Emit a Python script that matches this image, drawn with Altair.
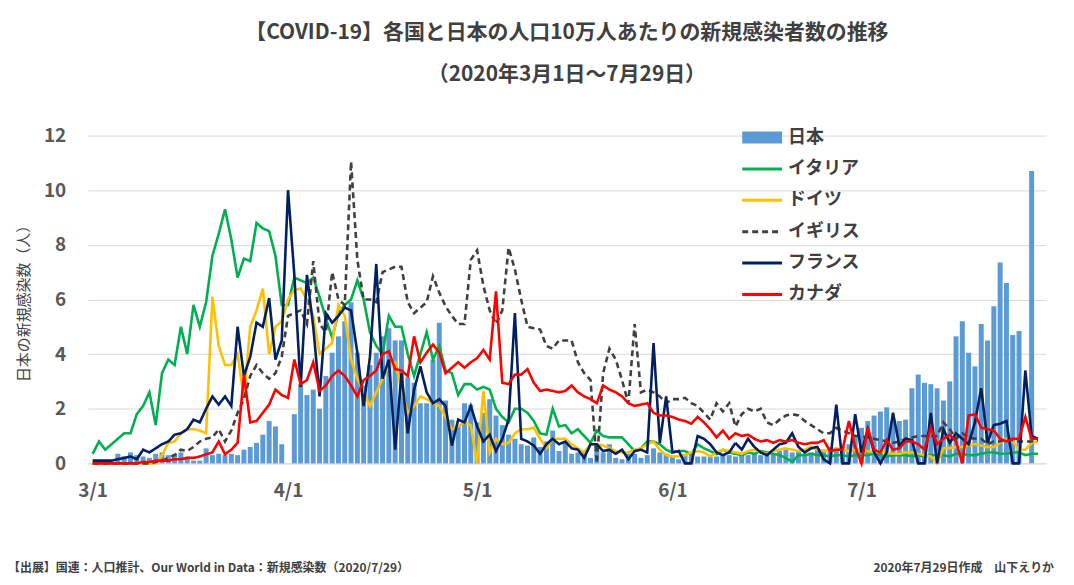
import altair as alt
import pandas as pd

# daily values, 3/1 (day 0) .. 7/29 (day 150)
japan = (
    [0, 0, 0, 0, .35, .25, .4, .3, .25, .2, .35, .4, .3, .35, .4, .25, .1, .1, .55, .3, .35, .3, .35, .3, .5, .6, .75, 1.05, 1.55, 1.35, .7]
    + [0, 1.8, 2.9, 2.5, 2.7, 2.0, 3.2, 4.05, 4.65, 5.2, 5.9, 4.05, 2.85, 3.6, 4.05, 4.65, 4.95, 4.5, 4.5, 3.15, 2.95, 2.2, 2.2, 3.8, 5.15, 2.3, 1.6, 1.35, 2.2, 2.15]
    + [1.5, 1.85, 2.35, 1.75, 1.4, 1.05, .9, .7, .65, .95, .6, .8, 1.2, .45, .75, .35, .4, .45, .2, .5, .4, .7, .2, .15, .35, .35, .2, .3, .55, .4, .35]
    + [.25, .15, .35, .35, .25, .25, .25, .25, .3, .3, .25, .35, .3, .35, .3, .4, .35, .45, .5, .4, .45, .35, .4, .55, .5, .6, .5, .6, .7, 1.0]
    + [1.3, 1.55, 1.75, 1.9, 2.05, 1.55, 1.55, 1.6, 2.75, 3.25, 2.95, 2.9, 2.75, 2.3, 3.0, 4.65, 5.2, 4.05, 3.55, 5.1, 4.5, 5.75, 7.35, 6.6, 4.7, 4.85, 0, 10.7, 0]
)
italy = (
    [.35, .8, .5, .7, .9, 1.1, 1.1, 1.8, 2.1, 2.6, 1.4, 3.3, 3.8, 3.6, 5.0, 4.0, 5.8, 5.0, 5.9, 7.6, 8.4, 9.3, 8.2, 6.8, 7.5, 7.4, 8.8, 8.6, 8.5, 7.6, 5.8]
    + [5.8, 6.8, 6.7, 6.6, 6.8, 6.1, 5.3, 4.6, 5.5, 5.8, 6.0, 6.7, 6.0, 4.8, 4.3, 4.0, 5.4, 5.0, 5.0, 4.0, 3.2, 4.0, 4.8, 3.8, 4.3, 3.4, 3.3, 2.5, 2.9, 2.9]
    + [2.7, 2.8, 2.7, 2.0, 1.7, 1.5, 2.0, 2.0, 1.85, 1.55, 1.1, 1.05, 2.0, 1.35, 1.4, 1.1, 1.25, 1.0, .75, 1.2, 1.0, .95, .95, .95, .7, .45, .55, .8, .8, .7, .5]
    + [.4, .45, .45, .33, .7, .55, .45, .33, .5, .4, .35, .3, .4, .35, .45, .4, .35, .3, .2, .05, .3, .3, .35, .3, .3, .25, .3, .3, .25, .3]
    + [.3, .3, .35, .3, .25, .3, .3, .3, .25, .3, .25, .3, .3, .3, .25, .35, .35, .3, .3, .35, .4, .4, .35, .35, .4, .4, .3, .35, .35]
)
germany = (
    [0, 0, 0, 0, 0, 0, 0, 0, 0, 0, 0, .3, .75, .8, 1.1, 1.25, 1.25, 1.2, 1.1, 6.1, 4.3, 3.6, 3.6, 4.0, 2.4, 5.0, 5.6, 6.4, 4.0, 5.0, 5.2]
    + [6.0, 6.35, 6.4, 6.0, 5.4, 4.0, 4.2, 4.4, 5.8, 5.4, 3.8, 3.1, 2.6, 2.1, 2.6, 3.1, 3.55, 3.7, 2.7, 1.85, 2.1, 2.45, 2.35, 2.2, 2.1, 1.7, 1.25, 1.35, 1.5, 1.4]
    + [0, 2.65, .4, .9, .7, .75, 1.1, 1.25, 1.25, 1.3, .9, .55, .9, .9, .9, .7, .55, .4, .7, .7, .65, .55, .45, .4, .4, .5, .55, .7, .8, .5, .3]
    + [.25, .25, .3, .4, .45, .4, .25, .4, .5, .45, .4, .35, .45, .5, .4, .35, .45, .5, .55, .5, .45, .5, .6, .5, .45, .5, .55, .5, .45, .5]
    + [.5, .45, .4, .45, .4, .35, .35, .4, .4, .35, .3, .25, 0, .55, .55, .6, .6, .65, .7, .65, .6, .6, .75, .9, .8, .5, .5, .75, .8]
)
uk = (
    [0, 0, 0, 0, 0, 0, 0, 0, 0, 0, .05, .1, .2, .3, .5, .45, .6, .8, .9, .95, 1.25, .8, 1.2, 1.85, 2.35, 3.2, 3.6, 3.3, 3.1, 3.3, 3.9]
    + [5.4, 5.5, 5.6, 5.1, 7.4, 5.1, 4.8, 7.0, 6.0, 5.8, 11.05, 7.45, 6.0, 6.0, 5.9, 7.0, 7.1, 7.2, 7.2, 5.9, 5.5, 5.7, 5.9, 6.85, 6.25, 5.75, 5.4, 5.1, 5.1, 7.45]
    + [7.8, 6.5, 5.6, 5.1, 5.6, 7.9, 7.1, 6.0, 5.0, 4.95, 4.9, 4.3, 4.2, 4.5, 4.5, 4.5, 3.7, 3.3, 3.05, 0, 3.3, 4.2, 3.8, 3.05, 2.2, 5.1, 2.6, 2.7, 2.6, 2.45, 2.2]
    + [2.35, 2.35, 2.4, 2.2, 2.1, 1.85, 1.6, 2.2, 1.9, 2.2, 1.35, 1.8, 2.0, 1.9, 2.0, 1.5, 1.4, 1.6, 1.75, 1.8, 1.75, 1.55, 1.4, 1.25, 1.1, 1.1, 1.3, 1.2, 1.1, 1.0]
    + [1.0, .95, .9, .85, .8, .75, .8, .9, .95, 1.0, 1.0, 1.0, 1.0, 1.5, 1.25, .9, 1.1, .95, .9, .9, .7, .8, .8, .9, .85, .8, .8, .8, .85]
)
france = (
    [.1, .1, .1, .1, .15, .2, .25, .15, .5, .4, .55, .7, .8, 1.05, 1.1, 1.25, 1.6, 1.5, 2.0, 2.45, 2.15, 2.45, 2.1, 5.0, 3.2, 3.9, 5.15, 5.0, 6.05, 3.8, 4.5]
    + [10.0, 6.9, 2.8, 6.9, 5.0, 2.45, 5.5, 5.15, 5.4, 5.7, 5.6, 4.05, 2.1, 3.9, 7.3, 3.1, 3.8, .5, 3.3, 1.1, 2.7, 3.55, 2.6, 2.2, 2.35, 2.1, .65, 1.6, 1.5, 2.1]
    + [1.35, .8, 1.05, .45, .9, 1.6, 5.5, .9, .8, .65, .35, .7, .9, .7, .8, .55, .5, .2, .7, .7, .45, .5, .35, .5, .15, .45, .5, .4, 4.4, .75, 2.45]
    + [.4, .45, 0, 0, 1.0, .9, .7, .4, .3, .4, .75, .5, .9, .6, .4, .3, .5, .7, .75, 1.1, .6, .4, .55, .6, .15, 0, 2.15, 0, 0, 1.8]
    + [.4, 1.25, .4, 0, .4, 1.85, .65, .9, .85, 0, 0, 1.85, 0, 1.25, .75, 1.1, .9, .7, 1.5, 2.75, .75, 1.4, 1.45, 1.55, 0, 0, 3.4, 1.0, .9]
)
canada = (
    [0, 0, 0, 0, 0, 0, 0, 0, .05, .05, .1, .1, .1, .15, .15, .2, .2, .25, .33, .4, .8, .33, .5, .75, 3.25, 1.5, 1.55, 1.85, 2.15, 2.7, 2.5]
    + [2.4, 3.8, 2.9, 3.05, 3.7, 2.65, 2.85, 3.2, 3.4, 3.2, 2.85, 2.45, 3.05, 3.2, 3.4, 4.0, 4.1, 3.45, 3.4, 3.2, 4.65, 3.7, 4.05, 4.35, 4.05, 3.3, 3.5, 3.7, 3.5, 3.7]
    + [3.85, 4.15, 3.8, 6.3, 2.95, 2.9, 3.25, 3.25, 3.45, 2.95, 2.65, 2.7, 2.65, 2.6, 2.65, 2.85, 2.6, 2.45, 2.35, 2.2, 2.85, 2.7, 2.6, 2.45, 2.2, 2.1, 2.15, 2.2, 1.85, 1.75, 1.75]
    + [1.7, 1.6, 1.55, 1.45, 1.7, 1.5, 1.25, .95, 1.2, .9, 1.1, 1.0, 1.05, .9, .8, .85, .75, .85, .8, .85, .75, .7, .75, .75, .85, .45, .5, .5, 1.55, .6]
    + [0, 1.3, .5, .4, .85, .5, .55, .8, .8, .7, .5, 1.3, .7, .9, 1.05, .8, 0, 1.75, 1.8, 1.3, 1.25, 1.2, .9, .8, .9, .9, 1.7, .9, .9]
)

tick_days = [0, 31, 61, 92, 122]
tick_labels = ["3/1", "4/1", "5/1", "6/1", "7/1"]

line_series = ["イタリア", "ドイツ", "イギリス", "フランス", "カナダ"]
line_colors = ["#00B050", "#FFC000", "#404040", "#002060", "#FF0000"]
line_dash = [[1, 0], [1, 0], [6, 4], [1, 0], [1, 0]]

FONT = "Noto Sans CJK JP"
GREY = "#595959"

days = list(range(len(japan)))
bars_df = pd.DataFrame({"day": days, "value": japan})
lines_df = pd.concat(
    [
        pd.DataFrame({"day": days, "value": vals, "country": name})
        for name, vals in zip(line_series, [italy, germany, uk, france, canada])
    ]
)

label_expr = " : ".join(
    f"datum.value == {d} ? '{t}'" for d, t in zip(tick_days, tick_labels)
) + " : ''"

x_scale = alt.Scale(domain=[0, 150.5], nice=False, zero=False)
y_scale = alt.Scale(domain=[0, 12])

bars = (
    alt.Chart(bars_df)
    .mark_bar(color="#5B9BD5", size=5)
    .encode(
        x=alt.X(
            "day:Q",
            scale=x_scale,
            title=None,
            axis=alt.Axis(
                values=tick_days, labelExpr=label_expr, grid=False, ticks=False,
                domain=True, domainColor="#D9D9D9", labelPadding=18,
                labelFontSize=19, labelFontWeight="bold", labelColor=GREY, labelFont=FONT,
            ),
        ),
        y=alt.Y(
            "value:Q",
            scale=y_scale,
            title="日本の新規感染数（人）",
            axis=alt.Axis(
                values=[0, 2, 4, 6, 8, 10, 12], gridColor="#D9D9D9", domain=False, ticks=False,
                labelPadding=22, labelFontSize=19, labelFontWeight="bold", labelColor=GREY,
                labelFont=FONT, titleFont=FONT, titleFontSize=15, titleColor="#404040",
                titleFontWeight="normal", titlePadding=12,
            ),
        ),
    )
)

lines = (
    alt.Chart(lines_df)
    .mark_line(strokeWidth=2.6)
    .encode(
        x=alt.X("day:Q", scale=x_scale),
        y=alt.Y("value:Q", scale=y_scale),
        color=alt.Color("country:N", scale=alt.Scale(domain=line_series, range=line_colors), legend=None),
        strokeDash=alt.StrokeDash("country:N", scale=alt.Scale(domain=line_series, range=line_dash), legend=None),
    )
)

# hand-made legend in the upper right of the plot
legend_names = ["日本"] + line_series
legend_layers = []
for i, name in enumerate(legend_names):
    y = 2 + i * 31.5
    if i == 0:
        sym = alt.Chart(pd.DataFrame({"a": [0]})).mark_rule(color="#5B9BD5", strokeWidth=12).encode(
            x=alt.value(657), x2=alt.value(697), y=alt.value(y))
    else:
        sym = alt.Chart(pd.DataFrame({"a": [0]})).mark_rule(
            color=line_colors[i - 1], strokeWidth=3, strokeDash=line_dash[i - 1]).encode(
            x=alt.value(657), x2=alt.value(697), y=alt.value(y))
    txt = alt.Chart(pd.DataFrame({"t": [name]})).mark_text(
        align="left", baseline="middle", font=FONT, fontSize=18, fontWeight="bold", color="#404040"
    ).encode(text="t:N", x=alt.value(703), y=alt.value(y))
    legend_layers += [sym, txt]

notes = [
    alt.Chart(pd.DataFrame({"t": ["【出展】国連：人口推計、Our World in Data：新規感染数（2020/7/29）"]}))
    .mark_text(align="left", baseline="middle", font=FONT, fontSize=12, fontWeight="bold", color="#404040")
    .encode(text="t:N", x=alt.value(-80), y=alt.value(434)),
    alt.Chart(pd.DataFrame({"t": ["2020年7月29日作成　山下えりか"]}))
    .mark_text(align="right", baseline="middle", font=FONT, fontSize=12, fontWeight="bold", color="#404040")
    .encode(text="t:N", x=alt.value(970), y=alt.value(434)),
]

chart = (
    alt.layer(bars, lines, *legend_layers, *notes)
    .properties(
        width=962,
        height=329,
        autosize=alt.AutoSizeParams(type="none"),
        padding={"left": 80, "top": 127, "right": 20, "bottom": 110},
        title=alt.TitleParams(
            text=["【COVID-19】各国と日本の人口10万人あたりの新規感染者数の推移", "（2020年3月1日～7月29日）"],
            anchor="middle", font=FONT, fontSize=21, fontWeight="bold", color="#404040",
            lineHeight=42, offset=42,
        ),
    )
    .configure_view(stroke=None)
)

chart.save("out.html", embed_options={"renderer": "svg", "actions": False})
